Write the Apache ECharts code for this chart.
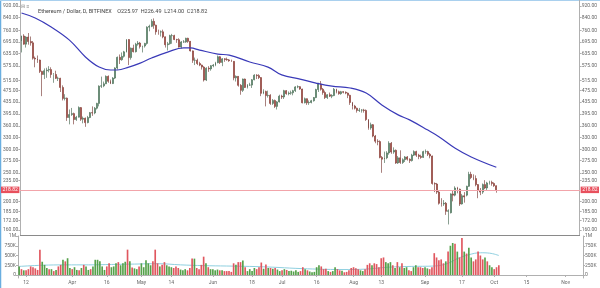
<!DOCTYPE html>
<html><head><meta charset="utf-8">
<script src="https://cdn.jsdelivr.net/npm/echarts@6/dist/echarts.min.js"></script>
<style>html,body{margin:0;padding:0;background:#fff}#c{width:600px;height:288px}</style>
</head><body><div id="c"></div>
<script>
// ---------- DATA ----------
const startDate = '2018-03-09';
const dayCount = 245; // visible days incl. empty future space

const opens = [
700,728,683,722,697,690,612,608,603,552,539,555,558,560,539,539,523,523,487,447,448,385,394,
397,379,386,416,380,383,370,385,400,399,414,430,492,493,501,531,511,502,524,567,616,605,621,643,708,615,662,644,683,689,
670,673,687,780,785,816,792,752,751,752,723,680,685,730,730,708,707,668,695,695,715,698,648,602,602,587,580,571,516,566,563,
577,580,591,619,592,609,606,604,600,597,525,531,495,476,520,487,496,496,517,536,534,526,465,472,457,458,430,440,420,435,
455,452,475,464,466,467,475,489,490,481,432,446,432,433,439,450,479,500,480,468,450,460,455,457,480,471,464,471,469,466,458,
433,421,414,407,408,408,407,379,355,364,333,320,319,282,278,281,292,315,294,298,270,281,271,277,283,278,275,287,295,287,284,
282,295,295,289,285,230,229,215,197,196,197,185,183,212,210,222,220,196,209,210,225,247,241,239,228,218,215,228,222,231,
232,230,225.97];
const highs = [
730,738,727,745,725,700,620,625,605,555,565,568,575,570,545,555,530,525,495,462,450,410,415,
400,390,420,418,388,385,390,402,420,418,432,495,530,510,535,535,518,528,570,620,630,640,648,710,710,665,680,690,700,695,
675,690,785,795,830,835,795,765,760,765,725,695,735,740,735,712,715,700,705,718,718,700,650,615,610,595,582,575,570,575,580,
585,595,625,622,612,612,615,608,605,598,535,532,500,522,522,500,505,520,540,540,540,528,480,475,475,462,445,443,438,460,
460,478,477,472,475,478,492,495,492,482,450,447,440,442,452,482,505,512,485,475,462,468,462,485,482,475,474,473,472,468,460,
435,425,416,415,411,412,410,380,370,366,336,325,322,285,295,296,320,318,305,300,285,298,280,285,285,280,290,298,297,290,288,
297,300,297,292,286,232,231,217,205,202,199,188,213,218,225,224,221,212,215,226,252,252,247,245,229,222,230,236,233,235,
235,232,226.49];
const lows = [
640,680,665,680,675,605,570,590,545,455,520,525,548,525,505,520,512,470,440,440,375,365,390,
365,375,385,375,368,358,368,383,390,395,410,420,485,488,500,505,500,500,520,560,585,600,615,640,580,605,640,640,675,660,
640,665,680,755,780,770,735,735,725,715,665,650,680,685,705,690,665,660,690,690,690,645,590,580,580,575,560,510,512,550,555,
570,575,588,585,575,595,600,595,595,515,510,490,460,470,485,483,493,485,515,520,520,455,462,420,450,425,425,415,410,433,
445,445,460,458,460,458,470,484,478,430,430,425,425,430,436,448,470,475,460,445,445,452,448,455,465,460,460,465,462,448,425,
410,410,400,402,400,400,375,350,350,330,315,310,280,250,270,278,288,290,290,268,268,268,268,272,275,270,273,285,283,278,279,
281,290,285,280,228,215,212,195,192,193,180,167,182,200,208,213,193,195,198,208,224,238,236,225,205,210,212,220,218,228,
226,224,214.00];
const closes = [
728,683,722,697,690,612,608,603,552,539,555,558,560,539,539,523,523,487,447,448,385,394,397,
379,386,416,380,383,370,385,400,399,414,430,492,493,501,531,511,502,524,567,616,605,621,643,708,615,662,644,683,689,670,
673,687,780,785,816,792,752,751,752,723,680,685,730,730,708,707,668,695,695,715,698,648,602,602,587,580,571,516,566,563,577,
580,591,619,592,609,606,604,600,597,525,531,495,476,520,487,496,496,517,536,534,526,465,472,457,458,430,440,420,435,455,
452,475,464,466,467,475,489,490,481,432,446,432,433,439,450,479,500,480,468,450,460,455,457,480,471,464,471,469,466,458,433,
421,414,407,408,408,407,379,355,364,333,320,319,282,278,281,292,315,294,298,270,281,271,277,283,278,275,287,295,287,284,282,
295,295,289,285,230,229,215,197,196,197,185,186,212,210,222,220,196,209,207,225,247,241,239,228,218,215,228,222,231,232,
230,226,218.82];
// volume in thousands
const volumes = [
220,150,120,120,150,220,200,170,130,650,340,260,180,150,150,100,130,220,260,390,350,430,180,
150,200,130,120,180,260,220,130,150,220,390,390,350,220,130,220,300,200,220,300,330,250,300,340,650,350,190,170,150,220,
300,200,380,300,250,350,650,300,220,260,330,250,220,200,180,220,180,140,120,150,120,180,420,420,180,150,260,470,300,200,150,
150,120,140,120,120,100,100,100,80,300,260,330,330,370,200,100,150,100,180,150,200,320,160,270,180,180,160,180,140,100,
120,150,130,100,110,90,120,80,100,200,150,120,90,70,80,200,250,220,150,160,100,80,100,200,150,120,110,70,80,120,180,
200,170,150,120,100,150,260,300,250,300,280,200,430,450,330,300,330,250,180,330,200,300,180,200,120,100,200,250,200,200,180,
200,170,150,200,560,450,380,400,300,350,600,750,820,800,600,450,950,600,550,700,450,350,400,600,500,400,450,350,250,200,
150,200,250];
// 50-day moving average (day index, value)
const maIndex = [0,6,13,21,28,34,39,42,47,52,57,64,71,74,78,86,91,100,108,114,122,129,136,144,151,158,165,170,178,183,190,197,208];
const maValue = [871,838,781,705,618,571,558,558,571,589,613,642,663,663,652,632,627,594,571,537,520,504,492,485,466,424,393,378,349,331,303,283,261];
// volume moving average (thousands)
const vmaIndex = [0,10,20,30,40,50,60,70,80,90,100,110,120,130,140,150,160,170,180,186,190,195,200,204,208];
const vmaValue = [220,250,260,260,270,280,290,260,240,230,220,200,170,150,140,150,200,220,230,300,420,520,570,560,500];

const priceTicks = [920,840,760,695,635,575,515,475,435,395,360,330,300,275,250,235,200,185,172,160];
const volTicks = [0,250000,500000,750000,1000000];
const volTickLabels = ['0','250K','500K','750K','1M'];
const xTickDates = ['2018-03-12','2018-04-01','2018-04-16','2018-05-01','2018-05-14','2018-06-01','2018-06-18','2018-07-01','2018-07-16','2018-08-01','2018-08-13','2018-09-01','2018-09-17','2018-10-01','2018-10-15','2018-11-01'];
const xTickLabels = ['12','Apr','16','May','14','Jun','18','Jul','16','Aug','13','Sep','17','Oct','15','Nov'];
const titleText = 'Ethereum / Dollar, D, BITFINEX';
const ohlcText = 'O225.97  H226.49  L214.00  C218.82';
const lastPrice = 218.82;

// ---------- BUILD ----------
const categories = [];
const d0 = new Date(startDate + 'T00:00:00Z');
for (let k = 0; k < dayCount; k++) categories.push(new Date(d0.getTime() + k * 86400000).toISOString().slice(0, 10));
const candleData = opens.map((o, i) => [o, closes[i], lows[i], highs[i]]);
const volData = volumes.map(v => v * 1000);
const maData = maIndex.map((ix, k) => [ix, maValue[k]]);
const vmaData = vmaIndex.map((ix, k) => [ix, vmaValue[k] * 1000]);

const UP = '#6ba583', DOWN = '#d75442';
const VUP = '#55a14a', VDOWN = '#e0575f';
const axisColor = '#b0b0b0', labelColor = '#666';
const fs = 5;
const isTick = (idx, val) => xTickDates.indexOf(val) >= 0;

const priceAxis = (pos) => ({
  type: 'log', logBase: 10, gridIndex: 0, position: pos, min: 153.8, max: 964.2,
  splitLine: {show: false},
  axisLine: {show: true, lineStyle: {color: axisColor}},
  axisTick: {show: true, length: 2, lineStyle: {color: axisColor}, customValues: priceTicks},
  axisLabel: {customValues: priceTicks, fontSize: fs, color: labelColor, margin: 2, fontFamily: 'Roboto',
              formatter: v => Number(v).toFixed(2)}
});
const volAxis = (pos) => ({
  type: 'value', gridIndex: 1, position: pos, min: -76923, max: 1000000,
  splitLine: {show: false},
  axisLine: {show: true, lineStyle: {color: axisColor}},
  axisTick: {show: true, length: 2, lineStyle: {color: axisColor}, customValues: volTicks},
  axisLabel: {customValues: volTicks, fontSize: fs, color: labelColor, margin: 2, fontFamily: 'Roboto',
              formatter: v => volTickLabels[volTicks.indexOf(Math.round(v))] || ''}
});

const priceLabel = (pos) => ({
  show: true, position: pos, formatter: lastPrice.toFixed(2), backgroundColor: '#e8505d', color: '#fff',
  fontSize: fs, fontFamily: 'Roboto', padding: [1, 1.5, 0.5, 1.5], distance: 1
});

const chart = echarts.init(document.getElementById('c'));
chart.setOption({
  animation: false,
  backgroundColor: '#fff',
  title: {
    text: titleText + '    ' + ohlcText, left: 33, top: 4,
    textStyle: {fontSize: 5.5, color: '#444', fontWeight: 'normal', fontFamily: 'Roboto'}
  },
  graphic: [
    {type: 'line', shape: {x1: 0.5, y1: 0, x2: 0.5, y2: 288}, style: {stroke: '#6aaee0', lineWidth: 1.5}},
    {type: 'line', shape: {x1: 0, y1: 0.5, x2: 600, y2: 0.5}, style: {stroke: '#a9d0ee', lineWidth: 1}},
    {type: 'text', left: 21, top: 4, style: {text: '⊟ ≡', fontSize: 5, fill: '#888'}}
  ],
  grid: [
    {left: 18, right: 17, top: 0, height: 235},
    {left: 18, right: 17, top: 236, height: 42}
  ],
  xAxis: [
    {type: 'category', gridIndex: 0, data: categories, boundaryGap: true,
     axisLine: {show: true, lineStyle: {color: '#8a8a8a'}}, axisTick: {show: false}, axisLabel: {show: false}, splitLine: {show: false}},
    {type: 'category', gridIndex: 1, data: categories, boundaryGap: true,
     axisLine: {show: true, lineStyle: {color: axisColor}},
     axisTick: {show: true, length: 2, interval: isTick, alignWithLabel: true, lineStyle: {color: axisColor}},
     axisLabel: {interval: isTick, fontSize: fs, color: labelColor, margin: 2, fontFamily: 'Roboto',
                 formatter: v => xTickLabels[xTickDates.indexOf(v)]},
     splitLine: {show: false}}
  ],
  yAxis: [priceAxis('right'), priceAxis('left'), volAxis('right'), volAxis('left')],
  series: [
    {type: 'candlestick', xAxisIndex: 0, yAxisIndex: 0, data: candleData, barWidth: '62%',
     itemStyle: {color: UP, color0: DOWN, borderColor: '#3b5e46', borderColor0: '#6e2b26', borderWidth: 0.6},
     markLine: {symbol: 'none', silent: true, animation: false,
       lineStyle: {color: '#f2a4aa', type: 'solid', width: 1},
       data: [{yAxis: lastPrice, label: priceLabel('end')}, {yAxis: lastPrice, label: priceLabel('start')}]}},
    {type: 'line', xAxisIndex: 0, yAxisIndex: 0, data: maData, smooth: 0.4, showSymbol: false,
     lineStyle: {color: '#3a3ab8', width: 1.2}},
    {type: 'bar', xAxisIndex: 1, yAxisIndex: 2, data: volData, barWidth: '72%',
     itemStyle: {color: p => closes[p.dataIndex] >= opens[p.dataIndex] ? VUP : VDOWN}},
    {type: 'line', xAxisIndex: 1, yAxisIndex: 2, data: vmaData, smooth: 0.4, showSymbol: false, z: 1,
     lineStyle: {color: '#8fd0e0', width: 1}}
  ]
});
</script>
</body></html>
